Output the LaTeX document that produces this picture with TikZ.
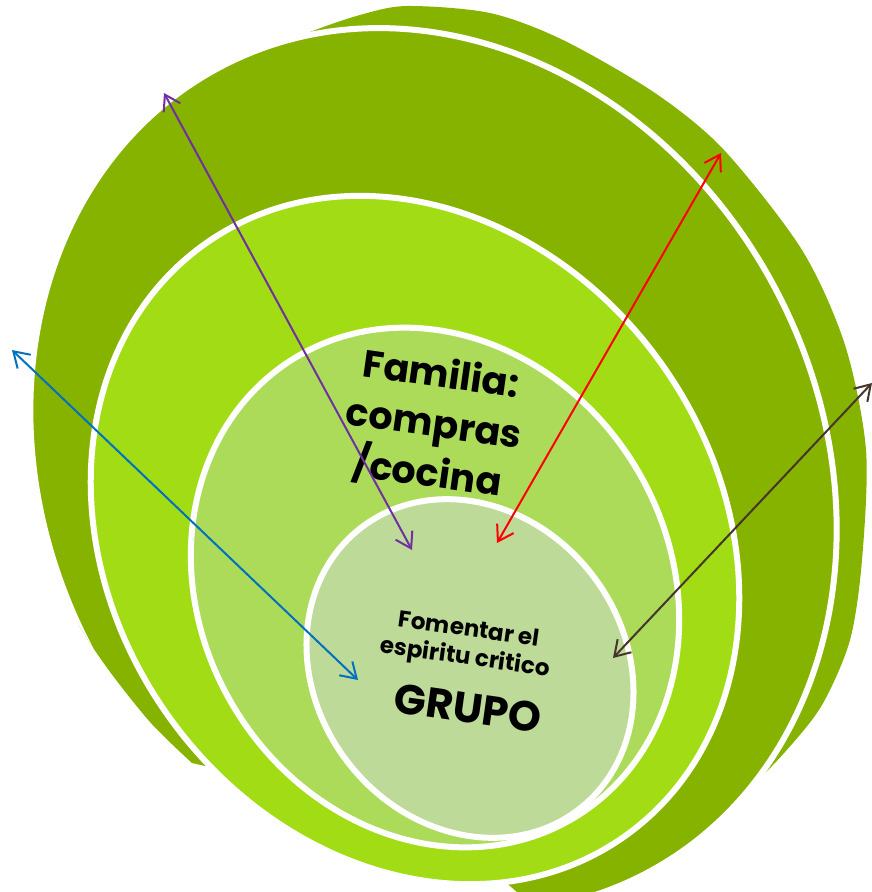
\documentclass[tikz,border=0pt]{standalone}
\usepackage{fontspec}
\setmainfont{Poppins}
\usepackage{tikz}
\usetikzlibrary{arrows.meta}
\definecolor{outergreen}{HTML}{86B300}
\definecolor{ringgreen}{HTML}{A1DC14}
\definecolor{familygreen}{HTML}{ACDB5A}
\definecolor{groupgreen}{HTML}{BEDA98}
\definecolor{linkpurple}{HTML}{7030A0}
\definecolor{linkred}{HTML}{FF0000}
\definecolor{linkblue}{HTML}{0070C0}
\definecolor{linkbrown}{HTML}{46352A}

\tikzset{
  ring/.style={draw=white, line width=6pt},
  ringtext/.style={align=center, text=black, inner sep=0pt, rotate=-8},
  linkarrow/.style={line width=2pt, >={Straight Barb[length=15pt,width=19pt]}, <->}
}

\begin{document}
\begin{tikzpicture}[x=1pt, y=-1pt]
    \useasboundingbox (0,0) rectangle (872,892);

    % back shell
    \fill[outergreen] plot[smooth] coordinates {(240,66) (272,50) (310,32) (360,15) (407,6) (490,13) (563,40) (655,93) (724,150) (802,250) (845,345) (866,450) (862,560) (850,640) (822,705) (785,752) (745,792) (700,825)} -- (450,650) -- (300,200) -- cycle;

    % front shell
    \begin{scope}
        \clip (-20,-20) -- (892,-20) -- (892,912) -- (540,912) -- (480,860) -- (245,775) -- plot[smooth] coordinates {(192,763) (150,722) (105,665) (70,610) (40,540)} -- (-20,540) -- cycle;
        \filldraw[ring, fill=outergreen, rotate around={-62.1:(433.5,470)}] (433.5,470) ellipse (456 and 387);
    \end{scope}

    % rings
    \filldraw[ring, fill=ringgreen, rotate around={-54.7:(415,540)}] (415,540) ellipse (363 and 303);
    \filldraw[ring, fill=familygreen, rotate around={-58.3:(435,587.5)}] (435,587.5) ellipse (269 and 234);
    \filldraw[ring, fill=groupgreen, rotate around={-52:(470,668.5)}] (470,668.5) ellipse (178 and 154);

    % texts
    \node[ringtext, font=\bfseries\fontsize{38}{50}\selectfont] (familia) at (434,425) {Familia:\\compras\\/cocina};
    \node[ringtext, font=\bfseries\fontsize{23}{28}\selectfont] (fomentar) at (467,645) {Fomentar el\\espiritu critico};
    \node[ringtext, font=\bfseries\fontsize{42}{50}\selectfont] (grupo) at (468,708) {GRUPO};

    % arrow ends
    \coordinate (purpleOut) at (164,93);
    \coordinate (purpleIn) at (412,550);
    \coordinate (redOut) at (721,153);
    \coordinate (redIn) at (497,543);
    \coordinate (blueOut) at (12,350);
    \coordinate (blueIn) at (358,680);
    \coordinate (brownOut) at (872,383);
    \coordinate (brownIn) at (613,658);

    \draw[linkarrow, linkpurple] (purpleOut) -- (purpleIn);
    \draw[linkarrow, linkred] (redOut) -- (redIn);
    \draw[linkarrow, linkblue] (blueOut) -- (blueIn);
    \draw[linkarrow, linkbrown] (brownOut) -- (brownIn);
\end{tikzpicture}
\end{document}
